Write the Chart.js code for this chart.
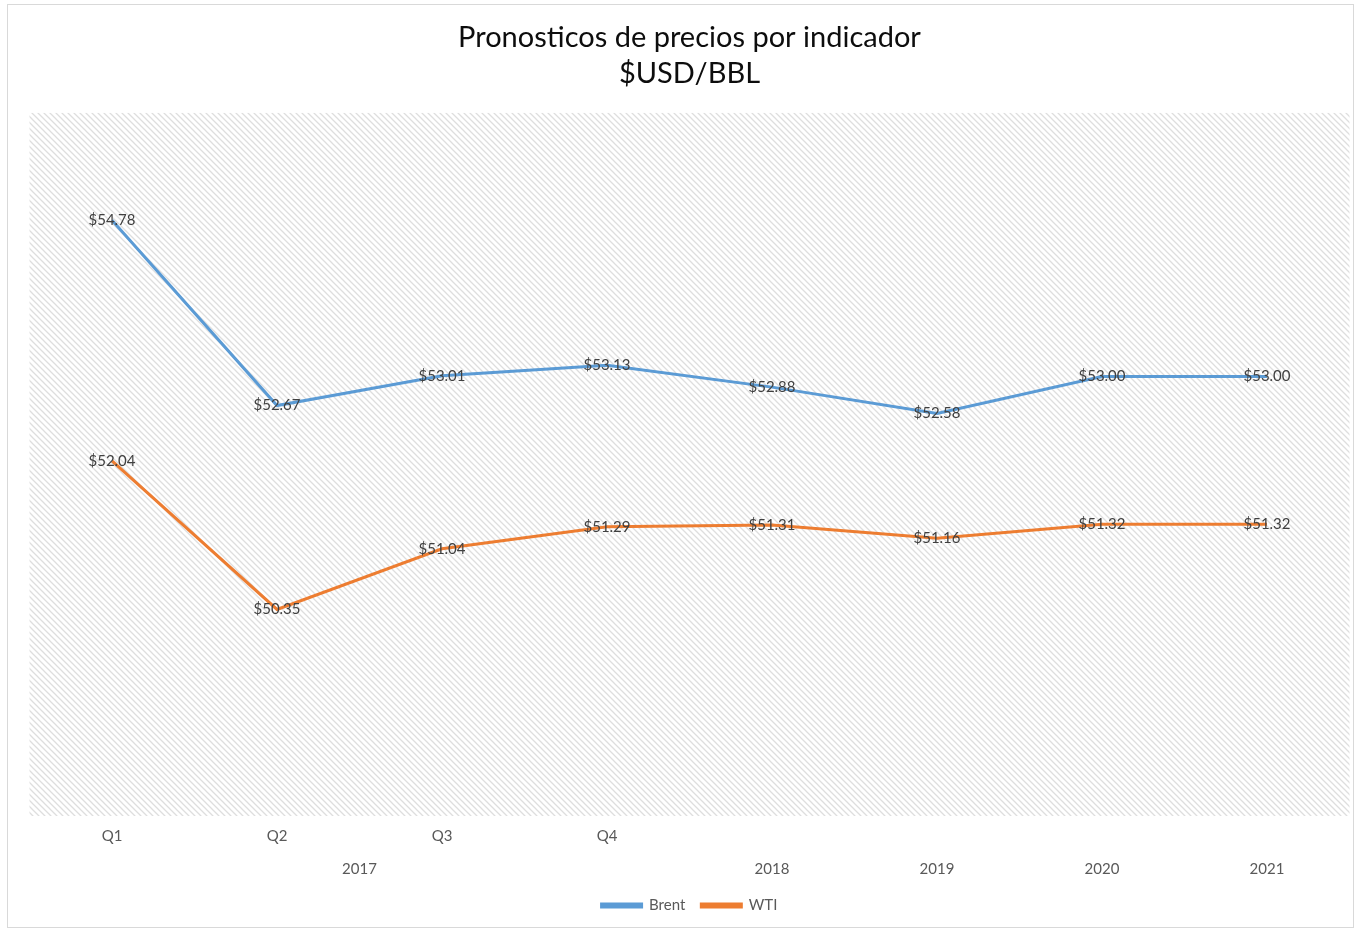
<!DOCTYPE html>
<html>
<head>
<meta charset="utf-8">
<script src="https://cdn.jsdelivr.net/npm/chart.js@4/dist/chart.umd.min.js"></script>
<style>
  html, body { margin: 0; padding: 0; background: #ffffff; }
  #frame {
    position: absolute; left: 7px; top: 4px;
    width: 1347px; height: 924px;
    border: 1px solid #d9d9d9; box-sizing: border-box;
  }
  #chart { display: block; }
</style>
</head>
<body>
<div id="frame"><canvas id="chart" width="1345" height="922"></canvas></div>
<script>
// Categories: the four 2017 quarters, then yearly forecasts
const categories = ['Q1', 'Q2', 'Q3', 'Q4', '2018', '2019', '2020', '2021'];
const quarterLabels = ['Q1', 'Q2', 'Q3', 'Q4', '', '', '', ''];
// Second label row: year captions and their positions on the category index
const yearLabels = ['2017', '2018', '2019', '2020', '2021'];
const yearPositions = [1.5, 4, 5, 6, 7];

// Price forecasts, USD per barrel
const brent = [54.78, 52.67, 53.01, 53.13, 52.88, 52.58, 53.00, 53.00];
const wti = [52.04, 50.35, 51.04, 51.29, 51.31, 51.16, 51.32, 51.32];

const labelFont = 'Lato, "Open Sans", "DejaVu Sans", sans-serif';

// Diagonal hatch used as the plot background
function makeHatch() {
  const c = document.createElement('canvas');
  c.width = 6; c.height = 6;
  const g = c.getContext('2d');
  g.fillStyle = '#ffffff';
  g.fillRect(0, 0, 6, 6);
  g.strokeStyle = '#dedede';
  g.lineWidth = 1.3;
  g.beginPath();
  g.moveTo(-1, -1); g.lineTo(7, 7);
  g.moveTo(-1, 5); g.lineTo(1, 7);
  g.moveTo(5, -1); g.lineTo(7, 1);
  g.stroke();
  return g.createPattern(c, 'repeat');
}

const hatchBackground = {
  id: 'hatchBackground',
  beforeDatasetsDraw(chart) {
    const { ctx, chartArea: a } = chart;
    ctx.save();
    ctx.fillStyle = makeHatch();
    ctx.fillRect(a.left, a.top, a.right - a.left, a.bottom - a.top);
    ctx.restore();
  }
};

// Value captions centred on each point
const pointValues = {
  id: 'pointValues',
  afterDatasetsDraw(chart) {
    const { ctx } = chart;
    ctx.save();
    ctx.font = '15px ' + labelFont;
    ctx.fillStyle = '#404040';
    ctx.textAlign = 'center';
    ctx.textBaseline = 'middle';
    chart.data.datasets.forEach((ds, i) => {
      const meta = chart.getDatasetMeta(i);
      meta.data.forEach((pt, j) => {
        ctx.fillText('$' + ds.data[j].toFixed(2), pt.x, pt.y);
      });
    });
    ctx.restore();
  }
};

new Chart(document.getElementById('chart'), {
  type: 'line',
  data: {
    labels: categories,
    datasets: [
      { label: 'Brent', data: brent, borderColor: '#5b9bd5', backgroundColor: '#5b9bd5',
        borderWidth: 3, pointRadius: 0, tension: 0 },
      { label: 'WTI', data: wti, borderColor: '#ed7d31', backgroundColor: '#ed7d31',
        borderWidth: 3, pointRadius: 0, tension: 0 }
    ]
  },
  options: {
    responsive: false,
    animation: false,
    layout: { padding: { left: 21.5, right: 3.5, top: 15, bottom: 4 } },
    plugins: {
      title: {
        display: true,
        text: ['Pronosticos de precios por indicador', '$USD/BBL'],
        color: '#0d0d0d',
        font: { family: labelFont, size: 29, weight: 'normal', lineHeight: 1.24 },
        padding: { top: 0, bottom: 21 }
      },
      legend: {
        position: 'bottom',
        labels: {
          color: '#595959',
          font: { family: labelFont, size: 15 },
          boxWidth: 40,
          boxHeight: 3,
          padding: 16
        }
      },
      tooltip: { enabled: false }
    },
    scales: {
      x: {
        type: 'category',
        position: 'bottom',
        offset: true,
        grid: { display: false, drawTicks: false },
        border: { display: false },
        ticks: {
          color: '#595959',
          font: { family: labelFont, size: 15 },
          padding: 11,
          maxRotation: 0,
          autoSkip: false,
          callback: (v, i) => quarterLabels[i]
        }
      },
      x2: {
        type: 'linear',
        position: 'bottom',
        min: -0.5,
        max: 7.5,
        grid: { display: false, drawTicks: false },
        border: { display: false },
        afterBuildTicks(scale) {
          scale.ticks = yearPositions.map(v => ({ value: v }));
        },
        ticks: {
          color: '#595959',
          font: { family: labelFont, size: 15 },
          padding: 4,
          maxRotation: 0,
          autoSkip: false,
          callback: (v, i) => yearLabels[i]
        }
      },
      y: {
        display: false,
        min: 48,
        max: 56
      }
    }
  },
  plugins: [hatchBackground, pointValues]
});
</script>
</body>
</html>
